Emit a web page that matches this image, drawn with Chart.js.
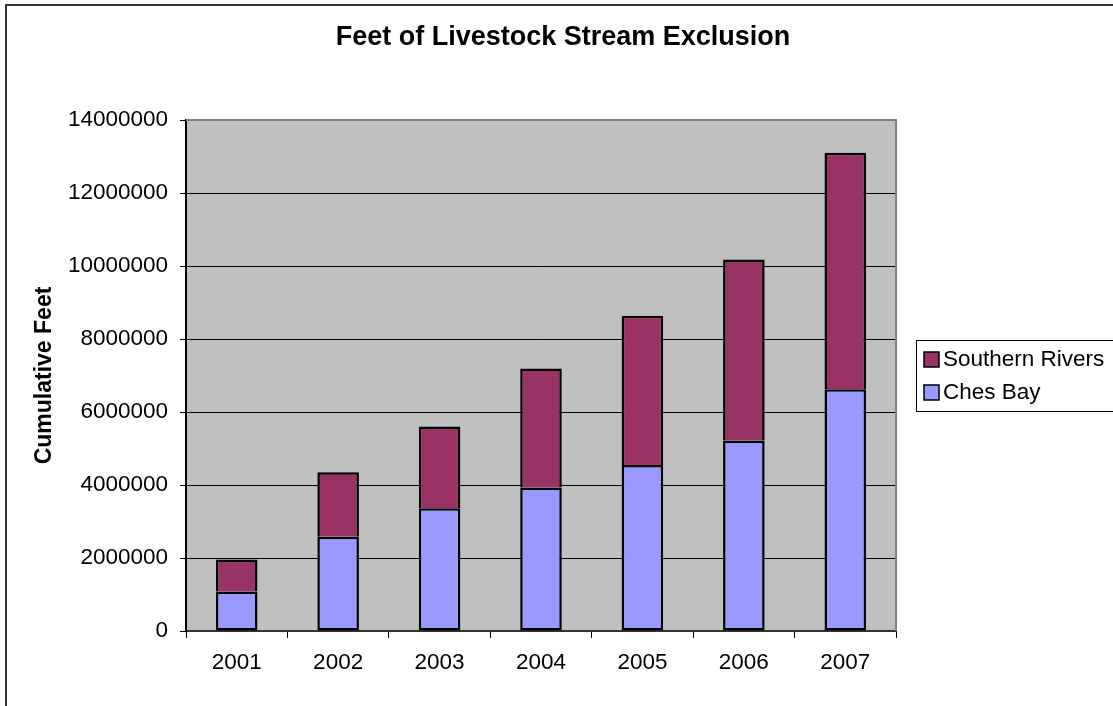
<!DOCTYPE html>
<html>
<head>
<meta charset="utf-8">
<title>Feet of Livestock Stream Exclusion</title>
<script src="https://cdn.jsdelivr.net/npm/chart.js@4.4.1/dist/chart.umd.min.js"></script>
<style>
  html, body { margin: 0; padding: 0; background: #ffffff; }
  #wrap { width: 1113px; height: 706px; position: relative; }
</style>
</head>
<body>
<div id="wrap"><canvas id="chart"></canvas></div>
<script>
// Chart data
const years = ['2001', '2002', '2003', '2004', '2005', '2006', '2007'];
const chesBay = [1080000, 2580000, 3360000, 3930000, 4550000, 5220000, 6620000];
const southernRivers = [880000, 1770000, 2240000, 3260000, 4090000, 4960000, 6480000];
const yTicks = [0, 2000000, 4000000, 6000000, 8000000, 10000000, 12000000, 14000000];

const chartTitle = 'Feet of Livestock Stream Exclusion';
const FONT = '"Liberation Sans", Arial, sans-serif';

// Grey plot background, frame, title and legend
const plotBackground = {
    id: 'plotBackground',
    beforeDraw(chart) {
        const { ctx, chartArea: a } = chart;
        ctx.save();
        ctx.fillStyle = '#c0c0c0';
        ctx.fillRect(a.left, a.top, a.right - a.left, a.bottom - a.top);
        ctx.restore();
    },
    beforeDatasetsDraw(chart) {
        const { ctx, chartArea: a } = chart;
        ctx.save();
        ctx.strokeStyle = '#808080';
        ctx.lineWidth = 2;
        ctx.beginPath();
        ctx.moveTo(a.left, a.top);
        ctx.lineTo(a.right, a.top);
        ctx.lineTo(a.right, a.bottom);
        ctx.stroke();
        ctx.restore();
    },
    afterDraw(chart) {
        const { ctx, width, height } = chart;
        ctx.save();
        // outer frame (right and bottom edges fall outside the picture)
        ctx.strokeStyle = '#333333';
        ctx.lineWidth = 2;
        ctx.beginPath();
        ctx.moveTo(6, height + 2);
        ctx.lineTo(6, 5);
        ctx.lineTo(width + 2, 5);
        ctx.stroke();

        // title
        ctx.fillStyle = '#000000';
        ctx.font = 'bold 27px ' + FONT;
        ctx.textAlign = 'center';
        ctx.textBaseline = 'middle';
        ctx.fillText(chartTitle, 563, 38);

        // legend box, listed in reverse order like the stack
        const lx = 916, ly = 340;
        ctx.strokeStyle = '#000000';
        ctx.lineWidth = 1;
        ctx.fillStyle = '#ffffff';
        ctx.fillRect(lx, ly, width - lx + 10, 71);
        ctx.strokeRect(lx + 0.5, ly + 0.5, width - lx + 10, 71);
        ctx.font = '22.5px ' + FONT;
        ctx.textAlign = 'left';
        const items = chart.data.datasets.slice().reverse();
        items.forEach((ds, i) => {
            const cy = ly + 19 + i * 33;
            ctx.fillStyle = ds.backgroundColor;
            ctx.fillRect(lx + 8, cy - 7, 15, 15);
            ctx.strokeStyle = '#000000';
            ctx.lineWidth = 1.5;
            ctx.strokeRect(lx + 8, cy - 7, 15, 15);
            ctx.fillStyle = '#000000';
            ctx.fillText(ds.label, lx + 27, cy + 1);
        });
        ctx.restore();
    }
};

new Chart(document.getElementById('chart'), {
    type: 'bar',
    data: {
        labels: years,
        datasets: [
            {
                label: 'Ches Bay',
                data: chesBay,
                backgroundColor: '#9999ff',
                borderColor: '#000000',
                borderWidth: 2.5,
                borderSkipped: false,
                categoryPercentage: 1,
                barPercentage: 0.41
            },
            {
                label: 'Southern Rivers',
                data: southernRivers,
                backgroundColor: '#993366',
                borderColor: '#000000',
                borderWidth: 2.5,
                borderSkipped: 'start',
                categoryPercentage: 1,
                barPercentage: 0.41
            }
        ]
    },
    options: {
        responsive: true,
        maintainAspectRatio: false,
        animation: false,
        layout: { padding: { top: 120, right: 217, left: 0, bottom: 0 } },
        plugins: {
            legend: { display: false },
            title: { display: false },
            tooltip: { enabled: false }
        },
        scales: {
            x: {
                stacked: true,
                grid: {
                    display: true,
                    offset: true,
                    drawOnChartArea: false,
                    drawTicks: true,
                    tickLength: 7,
                    color: '#000000'
                },
                border: { display: true, color: '#333333', width: 2 },
                ticks: {
                    color: '#000000',
                    padding: 11,
                    maxRotation: 0,
                    font: { family: FONT, size: 22.5 }
                },
                afterFit(scale) { scale.height = 75; }
            },
            y: {
                stacked: true,
                min: 0,
                max: 14000000,
                afterBuildTicks(scale) {
                    scale.ticks = yTicks.map(v => ({ value: v }));
                },
                grid: {
                    color: '#000000',
                    lineWidth: 1,
                    tickLength: 6,
                    drawTicks: true
                },
                border: { display: true, color: '#000000', width: 2 },
                ticks: {
                    color: '#000000',
                    padding: 12,
                    font: { family: FONT, size: 22.5 },
                    callback: v => String(v)
                },
                title: {
                    display: true,
                    text: 'Cumulative Feet',
                    color: '#000000',
                    font: { family: FONT, size: 23, weight: 'bold', lineHeight: 1.2 },
                    padding: { top: 31, bottom: 0 }
                },
                afterFit(scale) { scale.width = 186; }
            }
        }
    },
    plugins: [plotBackground]
});
</script>
</body>
</html>
